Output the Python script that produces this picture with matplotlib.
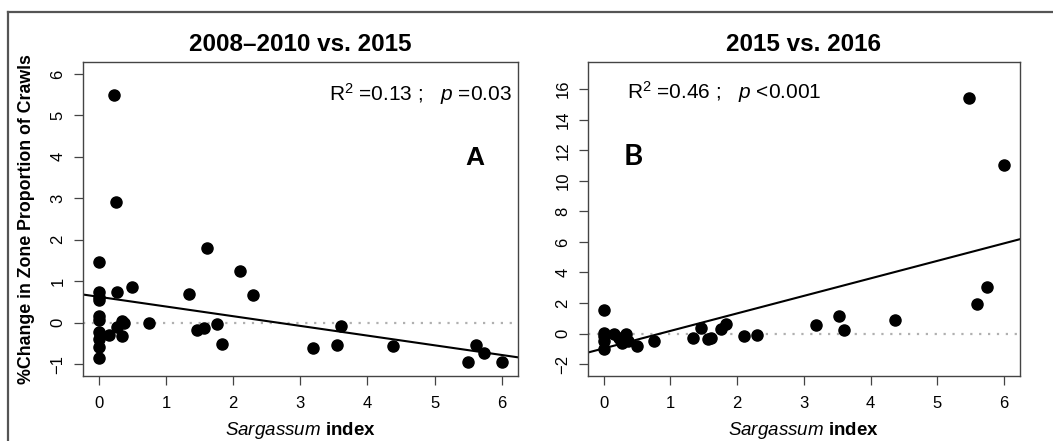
import numpy as np
import matplotlib
matplotlib.use("Agg")
import matplotlib.pyplot as plt
from matplotlib.lines import Line2D

plt.rcParams['font.family'] = ['Liberation Sans', 'DejaVu Sans']
plt.rcParams['mathtext.fontset'] = 'custom'
plt.rcParams['mathtext.rm'] = 'Liberation Sans'
plt.rcParams['mathtext.it'] = 'Liberation Sans:italic'
plt.rcParams['mathtext.bf'] = 'Liberation Sans:bold'

# panel A: 2008-2010 vs 2015
a_x = [0.23, 0.25, 0, 0, 0, 0, 0, 0, 0, 0, 0, 0, 0.15, 0.27, 0.27, 0.5, 0.34, 0.37,
       0.34, 0.75, 1.34, 1.61, 1.46, 1.56, 1.76, 1.83, 2.1, 2.3, 3.19, 3.54, 3.61,
       4.38, 5.49, 5.61, 5.74, 6.0]
a_y = [5.5, 2.92, 1.47, 0.73, 0.63, 0.55, 0.17, 0.07, -0.22, -0.4, -0.58, -0.85, -0.3,
       0.73, -0.1, 0.86, 0.05, 0.0, -0.31, 0.0, 0.68, 1.79, -0.18, -0.14, -0.02, -0.51,
       1.25, 0.67, -0.61, -0.55, -0.08, -0.57, -0.94, -0.55, -0.72, -0.95]
a_fit = (0.624, -0.234)  # intercept, slope
a_stats = r'R$^2$ =0.13 ;   $\it{p}$ =0.03'

# panel B: 2015 vs 2016
b_x = [5.48, 6.0, 5.75, 5.6, 4.37, 3.53, 3.6, 3.19, 2.3, 2.1, 1.83, 1.76, 1.46, 1.34,
       1.56, 1.61, 0.75, 0.5, 0, 0, 0, 0, 0, 0.15, 0.25, 0.27, 0.34, 0.37, 0.23]
b_y = [15.4, 11.02, 3.08, 1.95, 0.9, 1.12, 0.26, 0.59, -0.08, -0.18, 0.61, 0.28, 0.39,
       -0.31, -0.37, -0.26, -0.46, -0.79, 1.53, 0.07, -0.15, -0.48, -1.03, -0.05, -0.37,
       -0.59, -0.05, -0.48, -0.3]
b_fit = (-0.97, 1.146)
b_stats = r'R$^2$ =0.46 ;   $\it{p}$ <0.001'

fig = plt.figure(figsize=(10.53, 4.41), dpi=100)
axA = fig.add_axes([0.0785, 0.148, 0.4134, 0.7106])
axB = fig.add_axes([0.5581, 0.148, 0.4105, 0.7106])

panels = [
    (axA, a_x, a_y, a_fit, '2008\u20132010 vs. 2015', (-1, 6), range(-1, 7)),
    (axB, b_x, b_y, b_fit, '2015 vs. 2016', (-2, 17), range(-2, 17, 2)),
]

for ax, x, y, fit, title, ylim, yticks in panels:
    xr = (-0.24, 6.24)
    yr = (ylim[0] - 0.04 * (ylim[1] - ylim[0]), ylim[1] + 0.04 * (ylim[1] - ylim[0]))
    ax.axhline(0, color='#b0b0b0', ls=(0, (1, 3)), lw=1.6, zorder=1)
    xx = np.array(xr)
    ax.plot(xx, fit[0] + fit[1] * xx, color='black', lw=1.5, zorder=2)
    ax.plot(x, y, 'o', color='black', ms=8, zorder=3)
    ax.set_xlim(xr)
    ax.set_ylim(yr)
    ax.set_xticks(range(0, 7))
    ax.set_yticks(list(yticks))
    ax.tick_params(axis='both', labelsize=12, length=6.3, width=0.9, color='#444')
    ax.tick_params(axis='x', pad=8)
    ax.tick_params(axis='y', pad=6)
    for lab in ax.get_yticklabels():
        lab.set_rotation(90)
        lab.set_va('center')
    for s in ax.spines.values():
        s.set_color('#444')
        s.set_linewidth(1.0)
    ax.set_title(title, fontsize=17.5, fontweight='bold', pad=8)
    ax.set_xlabel(r'$\it{Sargassum}$ $\bf{index}$', fontsize=13.5)
    ax.xaxis.set_label_coords(0.5, -0.142)

axA.text(0.985, 0.90, a_stats, transform=axA.transAxes, ha='right', va='center', fontsize=15)
axB.text(0.09, 0.905, b_stats, transform=axB.transAxes, ha='left', va='center', fontsize=15)
axA.text(0.901, 0.695, 'A', transform=axA.transAxes, ha='center', va='center',
         fontsize=19, fontweight='bold')
axB.text(0.105, 0.699, 'B', transform=axB.transAxes, ha='center', va='center',
         fontsize=21, fontweight='bold', family=['Lato', 'DejaVu Sans'])

axA.set_ylabel('%Change in Zone Proportion of Crawls', fontsize=12.8, fontweight='bold')
axA.yaxis.set_label_coords(-0.129, 0.5)
axA.yaxis.label.set_va('center')

# outer frame
fig.add_artist(Line2D([0.0079, 1.0], [0.9735, 0.9735], color='#555', lw=1.6,
                      transform=fig.transFigure))
fig.add_artist(Line2D([0.0079, 0.0079], [0.0, 0.9735], color='#555', lw=1.6,
                      transform=fig.transFigure))

fig.savefig('out.png', dpi=100)
